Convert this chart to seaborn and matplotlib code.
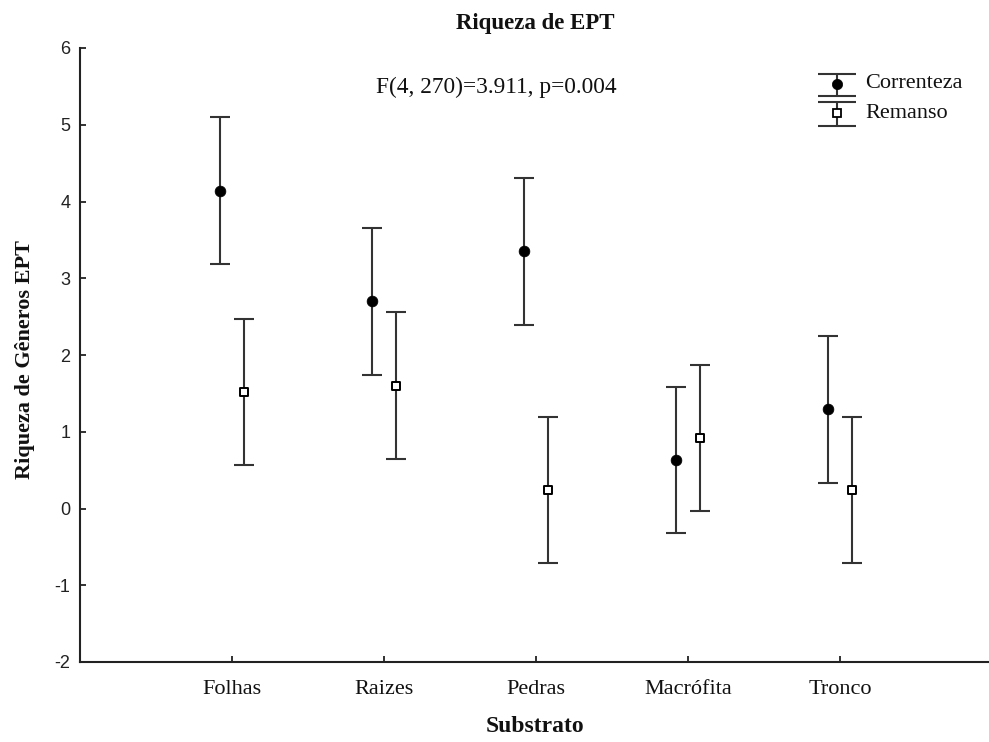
import numpy as np
import pandas as pd
import matplotlib
matplotlib.use("Agg")
import matplotlib.pyplot as plt
import seaborn as sns

# Mean EPT genus richness per substrate and flow condition, with CI half-widths
substratos = ["Folhas", "Raizes", "Pedras", "Macrófita", "Tronco"]
correnteza_media = [4.14, 2.70, 3.35, 0.63, 1.29]
remanso_media = [1.52, 1.60, 0.24, 0.92, 0.24]
correnteza_ic = [0.955, 0.955, 0.955, 0.955, 0.955]
remanso_ic = [0.955, 0.955, 0.955, 0.955, 0.955]
y_ticks = [-2, -1, 0, 1, 2, 3, 4, 5, 6]
estatistica = "F(4, 270)=3.911, p=0.004"

sns.set_style("ticks")
plt.rcParams["font.family"] = ["Liberation Serif", "DejaVu Serif"]

SERIF = "Liberation Serif"
SANS = "Liberation Sans"
INK = "#111111"
BAR = "#333333"

fig = plt.figure(figsize=(9.89, 7.42), dpi=100)
ax = fig.add_axes([80 / 989, 1 - 662 / 742, 912 / 989, 614 / 742])

pos = np.arange(len(substratos))
dodge = 0.076
df = pd.DataFrame({
    "x": np.concatenate([pos - dodge, pos + dodge]),
    "media": correnteza_media + remanso_media,
    "ic": correnteza_ic + remanso_ic,
    "Fluxo": ["Correnteza"] * len(substratos) + ["Remanso"] * len(substratos),
})

# Confidence intervals
ax.errorbar(df["x"], df["media"], yerr=df["ic"], fmt="none", ecolor=BAR,
            elinewidth=1.5, capsize=6.9, capthick=1.5, zorder=2)

# Means
cor = df[df["Fluxo"] == "Correnteza"]
rem = df[df["Fluxo"] == "Remanso"]
sns.scatterplot(data=cor, x="x", y="media", marker="o", s=60, color="black",
                edgecolor="black", linewidth=0.5, ax=ax, zorder=3, legend=False)
sns.scatterplot(data=rem, x="x", y="media", marker="s", s=36, color="white",
                edgecolor="black", linewidth=1.4, ax=ax, zorder=3, legend=False)

ax.set_xlim(-1, 5)
ax.set_ylim(-2, 6)
ax.set_xticks(pos)
ax.set_xticklabels(substratos, fontfamily=SERIF, fontsize=16, color=INK)
ax.set_yticks(y_ticks)
ax.set_yticklabels([str(v) for v in y_ticks], fontfamily=SANS, fontsize=13,
                   color="#222222")
ax.tick_params(axis="x", direction="in", length=4, width=1.3, color="#222222", pad=13)
ax.tick_params(axis="y", direction="in", length=4, width=1.3, color="#222222", pad=7)
ax.set_xlabel("")
ax.set_ylabel("")
for side in ("top", "right"):
    ax.spines[side].set_visible(False)
for side in ("left", "bottom"):
    ax.spines[side].set_linewidth(1.5)
    ax.spines[side].set_color("#222222")

# Test statistic
ax.text(0.457, 0.936, estatistica, transform=ax.transAxes, ha="center",
        va="center", fontfamily=SERIF, fontsize=16.8, color=INK)

# Legend drawn as error-bar glyphs
leg_x = 0.830
for (top, mid, bot), nome, mk, fc in [
    ((0.9577, 0.9414, 0.9218), "Correnteza", "o", "black"),
    ((0.912, 0.894, 0.873), "Remanso", "s", "white"),
]:
    ax.plot([leg_x, leg_x], [bot, top], transform=ax.transAxes, color=BAR,
            lw=1.5, clip_on=False, zorder=4)
    ax.plot([leg_x, leg_x], [bot, top], transform=ax.transAxes, ls="none",
            marker="_", markersize=27.5, markeredgewidth=1.5, color=BAR,
            clip_on=False, zorder=4)
    ax.plot([leg_x], [mid], transform=ax.transAxes, ls="none", marker=mk,
            markersize=7.4 if mk == "o" else 6.0, markerfacecolor=fc,
            markeredgecolor="black", markeredgewidth=1.3 if mk == "s" else 0.5,
            clip_on=False, zorder=5)
    ax.text(0.861, mid, nome, transform=ax.transAxes, ha="left", va="center",
            fontfamily=SERIF, fontsize=16, color=INK)

fig.text(535 / 989, 1 - 23 / 742, "Riqueza de EPT", ha="center", va="center",
         fontfamily=SERIF, fontsize=16.5, fontweight="bold", color=INK)
fig.text(535 / 989, 1 - 727 / 742, "Substrato", ha="center", va="center",
         fontfamily=SERIF, fontsize=17, fontweight="bold", color=INK)
fig.text(25 / 989, 1 - 360 / 742, "Riqueza de Gêneros EPT", ha="center",
         va="center", rotation=90, fontfamily=SERIF, fontsize=16,
         fontweight="bold", color=INK)

fig.savefig("out.png", dpi=100)
